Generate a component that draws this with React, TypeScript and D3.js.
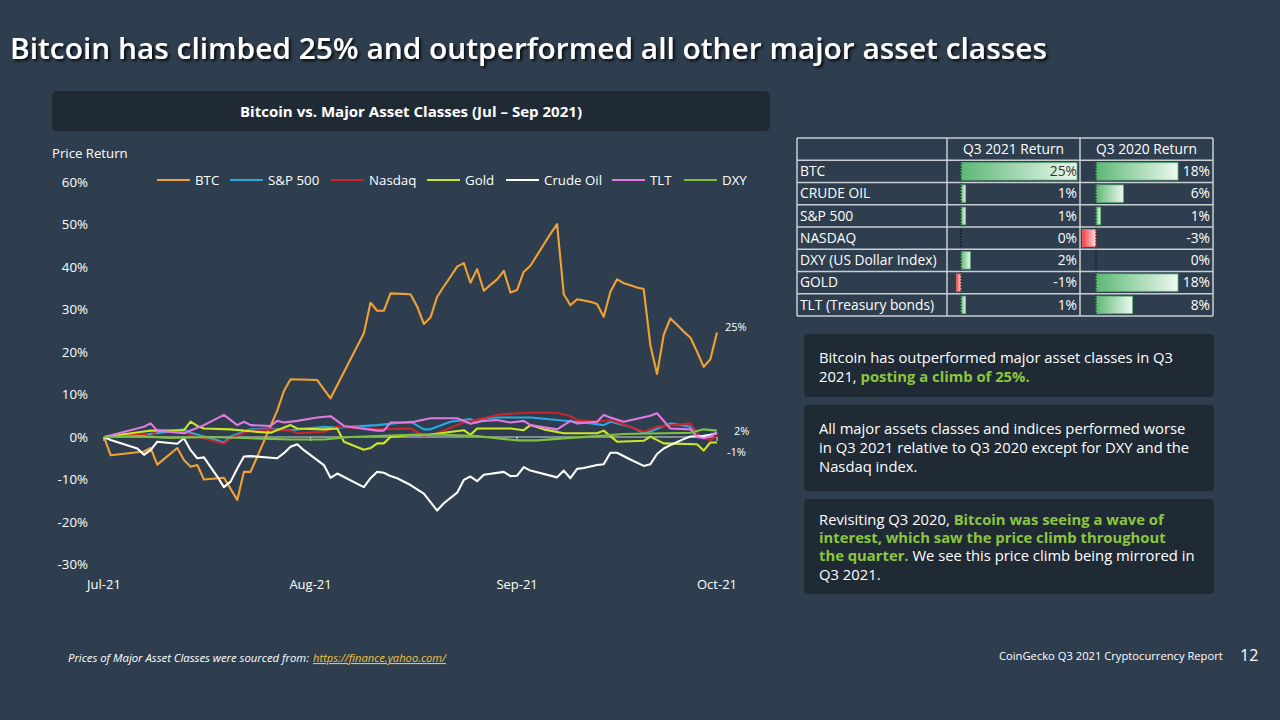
import * as d3 from "d3";

const BG = "#2e3e4e";
const PANEL = "#1f2a35";
const GREEN_TEXT = "#8cc63f";
const FONT = "'Open Sans', 'Noto Sans', sans-serif";

const START = new Date(2021, 6, 1);
const END = new Date(2021, 9, 1);

// days counted from Jul 1 2021, values in % price return
const btcDays = [0, 1, 6, 7, 8, 11, 12, 13, 14, 15, 18, 20, 21, 22, 26, 27, 28, 32, 34, 39, 40, 41, 42, 43, 46, 47, 48, 49, 50, 51, 52, 53, 54, 55, 56, 57, 58, 59, 60, 61, 62, 63, 64, 65, 66, 67, 68, 69, 70, 71, 72, 73, 74, 75, 76, 77, 78, 79, 80, 81, 82, 83, 84, 85, 86, 87, 88, 89, 90, 91, 92];
const btcValues = [0, -4.3, -3.4, -2.6, -6.5, -2.6, -5.4, -7, -6.6, -10, -9.6, -14.8, -8.2, -8.2, 6.2, 10.8, 13.6, 13.4, 9.1, 24.4, 31.6, 29.7, 29.7, 33.8, 33.6, 30.7, 26.6, 28.1, 33, 35.4, 37.7, 40.1, 40.9, 36.3, 39.5, 34.4, 35.8, 37.1, 39.1, 34, 34.6, 38.9, 40.3, 42.8, 45.3, 47.8, 50.1, 33.6, 31, 32.4, 32.1, 31.8, 31.3, 28.3, 34.2, 37.1, 36.2, 35.7, 35.2, 34.8, 21.6, 14.8, 24, 27.9, 26.4, 24.8, 23.4, 20.1, 16.5, 18.3, 24.6];

const spxDays = [0, 6, 12, 13, 16, 18, 19, 22, 25, 28, 33, 35, 41, 46, 48, 49, 52, 55, 56, 57, 59, 64, 68, 72, 75, 76, 79, 81, 82, 85, 88, 89, 91, 92];
const spxValues = [0, 0.5, 1.8, 1.0, -0.3, -1.3, 0.1, 1.8, 2.0, 1.6, 2.4, 2.2, 2.8, 3.6, 1.8, 1.8, 3.6, 4.2, 3.4, 4.4, 4.6, 4.6, 4.0, 3.4, 2.8, 3.6, 2.4, 1.0, 1.3, 3.2, 2.4, 0.1, 0.5, 1.0];

const ndxDays = [0, 6, 7, 8, 12, 13, 15, 18, 19, 22, 25, 28, 29, 33, 35, 38, 41, 46, 48, 50, 54, 57, 59, 63, 68, 70, 71, 74, 76, 79, 81, 83, 88, 89, 90, 91, 92];
const ndxValues = [0, 0.7, 0.1, 1.5, 1.25, 0.5, -0.3, -1.6, -0.3, 1.6, 1.8, 1.5, 0.9, 1.25, 2.4, 2.2, 1.8, 2.0, 0.3, 0.9, 3.4, 4.4, 5.2, 5.7, 5.7, 4.9, 4.0, 3.6, 4.0, 2.4, 1.25, 2.4, 3.2, 0.9, -0.3, -0.7, 0.2];

const goldDays = [0, 6, 7, 12, 13, 14, 15, 19, 23, 25, 28, 29, 33, 35, 36, 39, 40, 41, 42, 43, 46, 49, 54, 55, 56, 61, 63, 64, 66, 69, 74, 75, 77, 81, 82, 84, 89, 90, 91, 92];
const goldValues = [0, 1.3, 1.5, 1.6, 3.6, 2.6, 2.0, 1.8, 1.2, 1.0, 2.8, 2.0, 1.8, 2.0, -1.1, -3.0, -2.6, -1.5, -1.5, 0, 0.5, 0.6, 1.6, 0.5, 2.0, 2.0, 1.6, 2.8, 1.8, 0.9, 0.9, 1.5, -1.1, -0.9, 0.1, -1.5, -1.7, -3.2, -1.3, -1.3];

const oilDays = [0, 1, 5, 6, 7, 8, 11, 12, 13, 14, 15, 17, 18, 19, 20, 21, 22, 26, 27, 28, 29, 30, 33, 34, 35, 39, 40, 41, 42, 43, 44, 46, 48, 50, 51, 53, 54, 55, 56, 57, 60, 61, 62, 63, 64, 68, 69, 70, 71, 72, 74, 75, 76, 77, 79, 81, 82, 83, 84, 85, 87, 88, 90, 91, 92];
const oilValues = [0, -0.7, -2.7, -4.2, -3.1, -1.1, -1.6, -0.3, -3.1, -5, -4.8, -9.3, -11.8, -10.5, -7.4, -4.6, -4.5, -5, -3.8, -2.3, -1.7, -3.1, -6.6, -9.6, -8.6, -11.8, -9.7, -8.2, -8.4, -9.2, -9.7, -11.3, -13.3, -17.3, -15.6, -13.1, -10.1, -9.3, -10.4, -8.9, -8.2, -9.2, -9.1, -7.1, -7.9, -9.5, -7.9, -9.7, -7.5, -7.3, -6.6, -6.4, -3.7, -3.7, -5.3, -6.8, -6.4, -4, -2.7, -1.9, -0.5, 0.1, 0.2, 0.5, 0.9];

const tltDays = [0, 6, 7, 8, 12, 15, 18, 20, 21, 22, 25, 26, 27, 29, 32, 34, 36, 41, 42, 43, 46, 49, 53, 55, 57, 59, 61, 63, 64, 68, 70, 71, 74, 75, 76, 78, 82, 83, 85, 88, 89, 90, 91, 92];
const tltValues = [0, 2.4, 3.2, 1.5, 0.9, 2.8, 5.2, 2.8, 3.6, 2.8, 2.6, 3.8, 3.4, 3.8, 4.6, 4.9, 2.6, 1.5, 1.5, 3.4, 3.4, 4.4, 4.4, 3.1, 3.8, 4.0, 3.4, 3.8, 2.8, 1.8, 3.8, 3.2, 3.6, 5.2, 4.6, 3.6, 5.0, 5.6, 2.0, 1.8, 0, -0.3, 0.2, 1.0];

const dxyDays = [0, 5, 10, 16, 22, 28, 33, 37, 44, 50, 56, 62, 65, 70, 74, 78, 88, 90, 92];
const dxyValues = [0, 0.2, -0.2, 0, -0.3, -0.6, -0.6, 0, 0.4, 0.6, 0.2, -0.8, -0.8, -0.2, 0.2, 0.7, 1.0, 1.8, 1.5];

const seriesNames = ["BTC", "S&P 500", "Nasdaq", "Gold", "Crude Oil", "TLT", "DXY"];
const seriesColors = ["#f2a232", "#27a9e1", "#c9262c", "#cde62a", "#ffffff", "#e07ae0", "#7dc142"];
const seriesDays = [btcDays, spxDays, ndxDays, goldDays, oilDays, tltDays, dxyDays];
const seriesValues = [btcValues, spxValues, ndxValues, goldValues, oilValues, tltValues, dxyValues];

const yTicks = [60, 50, 40, 30, 20, 10, 0, -10, -20, -30];
const monthDates = [new Date(2021, 6, 1), new Date(2021, 7, 1), new Date(2021, 8, 1), new Date(2021, 9, 1)];
const monthLabels = ["Jul-21", "Aug-21", "Sep-21", "Oct-21"];

const tableAssets = ["BTC", "CRUDE OIL", "S&P 500", "NASDAQ", "DXY (US Dollar Index)", "GOLD", "TLT (Treasury bonds)"];
const q3Return2021 = [25, 1, 1, 0, 2, -1, 1];
const q3Return2020 = [18, 6, 1, -3, 0, 18, 8];

type Pt = { date: Date; value: number };

export default function App() {
  const x = d3.scaleTime().domain([START, END]).range([104, 717]);
  const y = d3.scaleLinear().domain([-30, 60]).range([564.5, 182]);
  const line = d3
    .line<Pt>()
    .x((d) => x(d.date))
    .y((d) => y(d.value));

  const series = seriesNames.map((name, i) => ({
    name,
    color: seriesColors[i],
    points: seriesDays[i].map((day, j) => ({ date: d3.timeDay.offset(START, day), value: seriesValues[i][j] })),
  }));

  // legend
  const legendX = [157, 230, 331, 427, 506, 612, 684];

  // table
  const rowBand = d3.scaleBand<string>().domain(["header", ...tableAssets]).range([138, 316]);
  const colEdges = [797, 947, 1080, 1213];
  const bar21 = d3.scaleLinear().domain([0, 25]).range([961, 1077]);
  const bar20 = d3.scaleLinear().domain([0, 18]).range([1096, 1178]);
  const bh = rowBand.bandwidth();

  const endLabels = [
    { text: "25%", value: btcValues[btcValues.length - 1], dx: 8, dy: -1 },
    { text: "2%", value: 2, dx: 17, dy: 6.5 },
    { text: "-1%", value: -1, dx: 10, dy: 15 },
  ];

  const tfs = 13.8;
  const bfs = 14.8;

  return (
    <div style={{ position: "fixed", left: 0, top: 0, width: 1280, height: 720, background: BG }}>
      <svg width={1280} height={720} style={{ display: "block", fontFamily: FONT }}>
        <defs>
          <filter id="shadow" x="-5%" y="-30%" width="110%" height="160%">
            <feDropShadow dx="2" dy="2" stdDeviation="1.5" floodColor="#000" floodOpacity="0.85" />
          </filter>
          <linearGradient id="greenBar" x1="0" x2="1" y1="0" y2="0">
            <stop offset="0%" stopColor="#5cb874" />
            <stop offset="100%" stopColor="#eef8f1" />
          </linearGradient>
          <linearGradient id="redBar" x1="0" x2="1" y1="0" y2="0">
            <stop offset="0%" stopColor="#f23a3d" />
            <stop offset="100%" stopColor="#fde2e2" />
          </linearGradient>
        </defs>
        <rect width={1280} height={720} fill={BG} />

        {/* title */}
        <text x={10} y={59} fill="#fff" fontSize={28} fontWeight={600} filter="url(#shadow)" textLength={1037} lengthAdjust="spacingAndGlyphs">
          Bitcoin has climbed 25% and outperformed all other major asset classes
        </text>

        {/* chart header */}
        <rect x={52} y={91} width={718} height={40} rx={5} fill={PANEL} />
        <text x={240} y={117} fill="#fff" fontSize={15} fontWeight={700} textLength={342} lengthAdjust="spacingAndGlyphs">
          Bitcoin vs. Major Asset Classes (Jul – Sep 2021)
        </text>

        <text x={52} y={158} fill="#fff" fontSize={13.2}>
          Price Return
        </text>

        {/* y ticks */}
        {yTicks.map((t) => (
          <text key={t} x={88} y={y(t)} dy="0.35em" textAnchor="end" fill="#fff" fontSize={13.3}>
            {`${t}%`}
          </text>
        ))}

        {/* x axis at zero */}
        <line x1={x(START)} x2={x(END)} y1={y(0)} y2={y(0)} stroke="#d6d6d6" strokeWidth={1.2} />
        {monthDates.map((d, i) => (
          <g key={monthLabels[i]}>
            <line x1={x(d)} x2={x(d)} y1={y(0)} y2={y(0) + 4} stroke="#d6d6d6" strokeWidth={1.2} />
            <text x={x(d)} y={589} textAnchor="middle" fill="#fff" fontSize={13}>
              {monthLabels[i]}
            </text>
          </g>
        ))}

        {/* series */}
        {series.map((s) => (
          <path key={s.name} d={line(s.points) ?? ""} fill="none" stroke={s.color} strokeWidth={2.1} strokeLinejoin="round" />
        ))}

        {endLabels.map((l) => (
          <text key={l.text} x={x(END) + l.dx} y={y(l.value) + l.dy} fill="#fff" fontSize={11}>
            {l.text}
          </text>
        ))}

        {/* legend */}
        {series.map((s, i) => (
          <g key={s.name} transform={`translate(${legendX[i]},180)`}>
            <line x1={0} x2={33} y1={0} y2={0} stroke={s.color} strokeWidth={2.2} />
            <text x={38} y={0} dy="0.35em" fill="#fff" fontSize={13.3}>
              {s.name}
            </text>
          </g>
        ))}

        {/* table */}
        <g>
          {q3Return2021.map((v, i) => {
            const top = rowBand(tableAssets[i]) ?? 0;
            const x0 = bar21(0);
            const x1 = bar21(v);
            return v !== 0 ? (
              <rect
                key={`a${i}`}
                x={Math.min(x0, x1)}
                y={top + 2.5}
                width={Math.abs(x1 - x0)}
                height={bh - 5}
                fill={v > 0 ? "url(#greenBar)" : "url(#redBar)"}
                stroke={v > 0 ? "#63be7b" : "#f8696b"}
                strokeWidth={0.8}
              />
            ) : null;
          })}
          {q3Return2020.map((v, i) => {
            const top = rowBand(tableAssets[i]) ?? 0;
            const x0 = bar20(0);
            const x1 = bar20(v);
            return v !== 0 ? (
              <rect
                key={`b${i}`}
                x={Math.min(x0, x1)}
                y={top + 2.5}
                width={Math.abs(x1 - x0)}
                height={bh - 5}
                fill={v > 0 ? "url(#greenBar)" : "url(#redBar)"}
                stroke={v > 0 ? "#63be7b" : "#f8696b"}
                strokeWidth={0.8}
              />
            ) : null;
          })}
          {tableAssets.map((a) => {
            const top = rowBand(a) ?? 0;
            return (
              <g key={`z${a}`}>
                <line x1={bar21(0)} x2={bar21(0)} y1={top} y2={top + bh} stroke="#000" strokeWidth={1} strokeDasharray="1.5,1.5" />
                <line x1={bar20(0)} x2={bar20(0)} y1={top} y2={top + bh} stroke="#000" strokeWidth={1} strokeDasharray="1.5,1.5" />
              </g>
            );
          })}
          {/* grid */}
          {rowBand.domain().map((r) => (
            <line key={`h${r}`} x1={colEdges[0]} x2={colEdges[3]} y1={rowBand(r)} y2={rowBand(r)} stroke="#c9ced3" strokeWidth={1.5} />
          ))}
          <line x1={colEdges[0]} x2={colEdges[3]} y1={316} y2={316} stroke="#c9ced3" strokeWidth={1.5} />
          {colEdges.map((c) => (
            <line key={`v${c}`} x1={c} x2={c} y1={138} y2={316} stroke="#c9ced3" strokeWidth={1.5} />
          ))}
          <text x={(colEdges[1] + colEdges[2]) / 2} y={(rowBand("header") ?? 0) + bh / 2} dy="0.35em" textAnchor="middle" fill="#fff" fontSize={tfs}>
            Q3 2021 Return
          </text>
          <text x={(colEdges[2] + colEdges[3]) / 2} y={(rowBand("header") ?? 0) + bh / 2} dy="0.35em" textAnchor="middle" fill="#fff" fontSize={tfs}>
            Q3 2020 Return
          </text>
          {tableAssets.map((a, i) => {
            const cy = (rowBand(a) ?? 0) + bh / 2;
            return (
              <g key={`t${a}`}>
                <text x={800} y={cy} dy="0.35em" fill="#fff" fontSize={tfs}>
                  {a}
                </text>
                <text x={colEdges[2] - 3} y={cy} dy="0.35em" textAnchor="end" fill={q3Return2021[i] >= 20 ? "#333" : "#fff"} fontSize={tfs}>
                  {`${q3Return2021[i]}%`}
                </text>
                <text x={colEdges[3] - 3} y={cy} dy="0.35em" textAnchor="end" fill="#fff" fontSize={tfs}>
                  {`${q3Return2020[i]}%`}
                </text>
              </g>
            );
          })}
        </g>

        {/* text boxes */}
        <rect x={804} y={334} width={410} height={63} rx={4} fill={PANEL} />
        <text x={819} y={363} fill="#fff" fontSize={bfs}>
          Bitcoin has outperformed major asset classes in Q3
        </text>
        <text x={819} y={382} fill="#fff" fontSize={bfs}>
          2021, <tspan fill={GREEN_TEXT} fontWeight={700}>posting a climb of 25%.</tspan>
        </text>

        <rect x={804} y={405} width={410} height={86} rx={4} fill={PANEL} />
        <text x={819} y={434} fill="#fff" fontSize={bfs}>
          All major assets classes and indices performed worse
        </text>
        <text x={819} y={453} fill="#fff" fontSize={bfs}>
          in Q3 2021 relative to Q3 2020 except for DXY and the
        </text>
        <text x={819} y={472} fill="#fff" fontSize={bfs}>
          Nasdaq index.
        </text>

        <rect x={804} y={499} width={410} height={95} rx={4} fill={PANEL} />
        <text x={819} y={525} fill="#fff" fontSize={bfs}>
          Revisiting Q3 2020, <tspan fill={GREEN_TEXT} fontWeight={700}>Bitcoin was seeing a wave of</tspan>
        </text>
        <text x={819} y={543} fill={GREEN_TEXT} fontSize={bfs} fontWeight={700}>
          interest, which saw the price climb throughout
        </text>
        <text x={819} y={561} fill="#fff" fontSize={bfs}>
          <tspan fill={GREEN_TEXT} fontWeight={700}>the quarter.</tspan> We see this price climb being mirrored in
        </text>
        <text x={819} y={580} fill="#fff" fontSize={bfs}>
          Q3 2021.
        </text>

        {/* footer */}
        <text x={68} y={662} fill="#fff" fontSize={11} fontStyle="italic" textLength={241} lengthAdjust="spacingAndGlyphs">
          Prices of Major Asset Classes were sourced from:
        </text>
        <text x={313} y={662} fill="#f3c243" fontSize={11} fontStyle="italic" textDecoration="underline" textLength={133} lengthAdjust="spacingAndGlyphs">
          https://finance.yahoo.com/
        </text>
        <text x={999} y={660} fill="#fff" fontSize={11.2}>
          CoinGecko Q3 2021 Cryptocurrency Report
        </text>
        <text x={1240} y={661} fill="#fff" fontSize={16}>
          12
        </text>
      </svg>
    </div>
  );
}
